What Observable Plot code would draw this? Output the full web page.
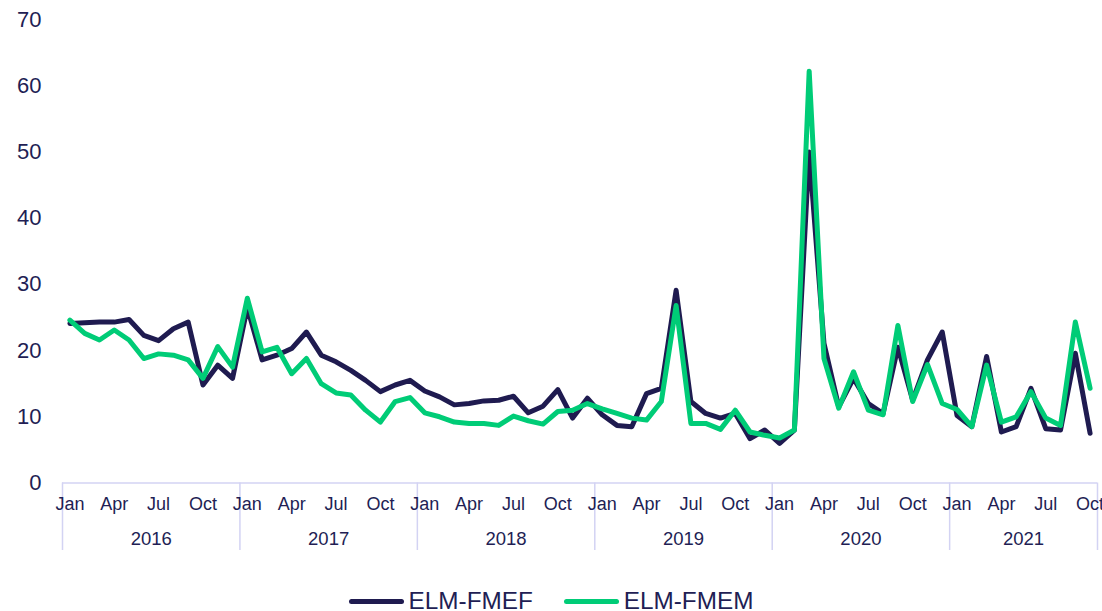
<!DOCTYPE html>
<html>
<head>
<meta charset="utf-8">
<script src="https://cdn.jsdelivr.net/npm/d3@7"></script>
<script src="https://cdn.jsdelivr.net/npm/@observablehq/plot@0.6"></script>
<style>
  body { margin: 0; background: #ffffff; font-family: "Liberation Sans", Arial, sans-serif; color: #221e54; }
  #chart { position: relative; width: 1102px; height: 611px; overflow: hidden; }
  #legend { position: absolute; left: 0; top: 586px; width: 1102px; display: flex; justify-content: center; align-items: center; font-size: 24.3px; line-height: 30px; }
  .item { display: flex; align-items: center; margin: 0 15.5px; }
  .sw { width: 55px; height: 5px; border-radius: 3px; margin-right: 5px; }
</style>
</head>
<body>
<div id="chart"></div>
<script>
const years = ["2016", "2017", "2018", "2019", "2020", "2021"];
const monthNames = ["Jan", "Feb", "Mar", "Apr", "May", "Jun", "Jul", "Aug", "Sep", "Oct", "Nov", "Dec"];
const yTicks = [0, 10, 20, 30, 40, 50, 60, 70];
const seriesNames = ["ELM-FMEF", "ELM-FMEM"];
const seriesColors = ["#1f1b50", "#00cc77"];

// Monthly values, Jan 2016 – Oct 2021
const fmef = [
  24.1, 24.2, 24.3, 24.3, 24.7, 22.3, 21.5, 23.3, 24.3, 14.8, 17.8, 15.8,
  26.5, 18.6, 19.3, 20.3, 22.8, 19.3, 18.3, 17.0, 15.5, 13.8, 14.8, 15.5,
  13.9, 13.0, 11.8, 12.0, 12.4, 12.5, 13.1, 10.6, 11.6, 14.1, 9.8, 12.8,
  10.3, 8.7, 8.5, 13.5, 14.3, 29.1, 12.3, 10.5, 9.8, 10.5, 6.7, 8.0,
  6.0, 8.0, 50.0, 21.1, 11.5, 15.8, 12.0, 10.5, 20.5, 12.5, 18.6, 22.8,
  10.2, 8.5, 19.1, 7.7, 8.5, 14.3, 8.2, 8.0, 19.6, 7.5
];
const fmem = [
  24.6, 22.6, 21.6, 23.1, 21.6, 18.8, 19.5, 19.3, 18.6, 15.8, 20.6, 17.5,
  27.9, 19.8, 20.5, 16.5, 18.8, 15.0, 13.6, 13.3, 11.0, 9.2, 12.3, 12.9,
  10.6, 10.0, 9.2, 9.0, 9.0, 8.7, 10.1, 9.4, 8.9, 10.8, 11.0, 12.0,
  11.2, 10.5, 9.8, 9.5, 12.3, 26.8, 9.0, 9.0, 8.1, 11.0, 7.7, 7.2,
  6.8, 8.0, 62.2, 18.8, 11.3, 16.8, 11.0, 10.3, 23.8, 12.3, 17.9, 12.0,
  11.1, 8.5, 17.8, 9.2, 10.0, 13.8, 9.8, 8.7, 24.3, 14.3
];

const n = fmef.length;
const rows = [];
fmef.forEach((v, i) => rows.push({i, value: v, series: seriesNames[0]}));
fmem.forEach((v, i) => rows.push({i, value: v, series: seriesNames[1]}));

const monthTicks = d3.range(0, n, 3);
const boundaries = years.map((y, k) => k * 12 - 0.5).concat([n - 0.5]);
const yearLabels = years.map((y, k) => {
  const m = Math.min(12, n - k * 12);
  return {year: y, pos: k * 12 + (m - 1) / 2};
});

const lavender = "#d3d3f3";
const chart = Plot.plot({
  width: 1102,
  height: 570,
  marginTop: 19,
  marginBottom: 87.5,
  marginLeft: 62,
  marginRight: 5,
  style: {fontFamily: '"Liberation Sans", Arial, sans-serif', color: "#221e54", background: "#ffffff", overflow: "visible"},
  x: {type: "linear", domain: [-0.5, n - 0.5], axis: null},
  y: {domain: [0, 70], axis: null},
  color: {domain: seriesNames, range: seriesColors},
  marks: [
    Plot.axisY({ticks: yTicks, tickSize: 0, tickPadding: 21, fontSize: 22, label: null}),
    Plot.ruleY([0], {stroke: lavender, strokeWidth: 1.5}),
    Plot.axisX(boundaries, {tickSize: 67.5, stroke: lavender, strokeWidth: 1.5, tickFormat: () => "", label: null}),
    Plot.axisX(monthTicks, {tickSize: 0, tickPadding: 14, fontSize: 18, tickFormat: i => monthNames[i % 12], label: null}),
    Plot.text(yearLabels, {x: "pos", text: "year", frameAnchor: "bottom", lineAnchor: "top", dy: 49, fontSize: 18.5, fill: "#221e54"}),
    Plot.line(rows, {x: "i", y: "value", z: "series", stroke: "series", strokeWidth: 5})
  ]
});
document.getElementById("chart").appendChild(chart);

const legend = document.createElement("div");
legend.id = "legend";
seriesNames.forEach((name, k) => {
  const item = document.createElement("div");
  item.className = "item";
  const sw = document.createElement("span");
  sw.className = "sw";
  sw.style.background = seriesColors[k];
  const label = document.createElement("span");
  label.textContent = name;
  item.appendChild(sw);
  item.appendChild(label);
  legend.appendChild(item);
});
document.getElementById("chart").appendChild(legend);
</script>
</body>
</html>
